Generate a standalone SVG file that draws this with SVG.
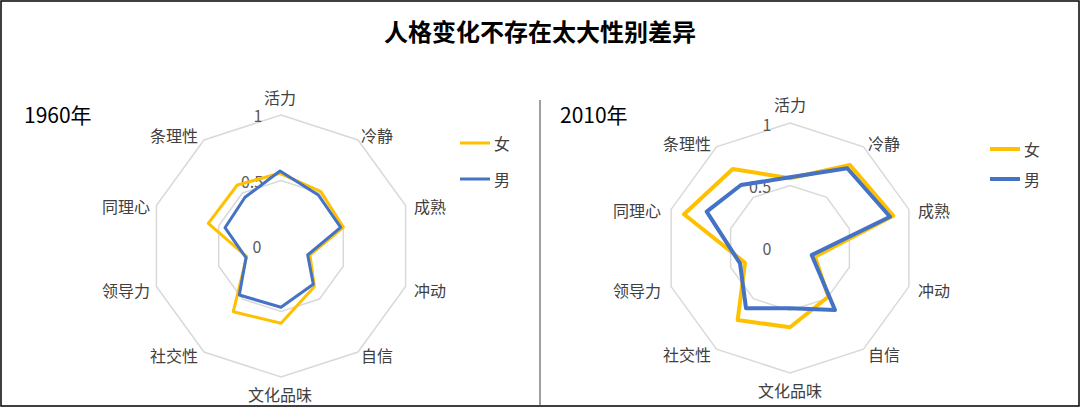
<svg xmlns="http://www.w3.org/2000/svg" width="1080" height="407" viewBox="0 0 1080 407">
<style>
text{font-family:"Noto Sans CJK SC","Liberation Sans",sans-serif;fill:#404040}
.lab{font-size:16px;text-anchor:middle;dominant-baseline:central}
.tick{font-size:16px;fill:#595959;text-anchor:middle;dominant-baseline:central}
.grid{fill:none;stroke:#d9d9d9;stroke-width:1.5}
.f{fill:none;stroke:#FFC000;stroke-width:3;stroke-linejoin:round}
.m{fill:none;stroke:#4472C4;stroke-width:3;stroke-linejoin:round}
.yr{font-size:21px;fill:#000}
</style>
<rect x="1" y="1" width="1078" height="405" fill="#fff" stroke="#000" stroke-width="1.5"/>
<text x="540" y="30" font-size="24" font-weight="bold" text-anchor="middle" dominant-baseline="central" style="fill:#000">人格变化不存在太大性别差异</text>
<line x1="540" y1="100" x2="540" y2="405" stroke="#404040" stroke-width="1"/>
<g id="chart1960">
<text class="yr" x="24" y="123">1960年</text>
<polygon class="grid" points="281,115 358,140 405.6,205.5 405.6,286.5 358,352 281,377 204,352 156.4,286.5 156.4,205.5 204,140"/>
<polygon class="grid" points="281,180.5 319.5,193 343.3,225.8 343.3,266.2 319.5,299 281,311.5 242.5,299 218.7,266.2 218.7,225.8 242.5,193"/>
<text class="tick" x="258" y="115">1</text><text class="tick" x="252" y="181">0.5</text><text class="tick" x="257" y="246">0</text>
<polygon class="f" points="280,173.3 321,191.7 343.3,227.3 310,255 314.3,286.7 281,323.3 233.3,311.7 246.7,256.7 208.3,223.3 237.3,185"/>
<polygon class="m" points="280,171 318.3,195 340.7,227.3 307.7,255 313.3,284.3 281,307.3 239.3,295 246,257.7 225,227.7 245,197.3"/>
<text class="lab" x="280" y="97">活力</text><text class="lab" x="377" y="135">冷静</text><text class="lab" x="430" y="206">成熟</text><text class="lab" x="430" y="290">冲动</text><text class="lab" x="377" y="355">自信</text><text class="lab" x="280" y="394">文化品味</text><text class="lab" x="174" y="355">社交性</text><text class="lab" x="126" y="290">领导力</text><text class="lab" x="126" y="206">同理心</text><text class="lab" x="174" y="135">条理性</text>
<line x1="460" y1="143" x2="490" y2="143" stroke="#FFC000" stroke-width="3"/><text class="lab" x="502" y="143">女</text>
<line x1="460" y1="179" x2="490" y2="179" stroke="#4472C4" stroke-width="3"/><text class="lab" x="502" y="179">男</text>
</g>
<g id="chart2010">
<text class="yr" x="560" y="123">2010年</text>
<polygon class="grid" points="790,123 863.5,146.9 908.9,209.4 908.9,286.6 863.5,349.1 790,373 716.5,349.1 671.1,286.6 671.1,209.4 716.5,146.9"/>
<polygon class="grid" points="790,185.5 826.7,197.4 849.4,228.7 849.4,267.3 826.7,298.6 790,310.5 753.3,298.6 730.6,267.3 730.6,228.7 753.3,197.4"/>
<text class="tick" x="767" y="124">1</text><text class="tick" x="760" y="186">0.5</text><text class="tick" x="767" y="248">0</text>
<polygon class="f" style="stroke-width:4" points="790,178.3 850,165 893.3,215.7 815,256.7 828.3,296.7 790,327.3 737.7,320 745,262.7 684,214.3 732.7,169"/>
<polygon class="m" style="stroke-width:4" points="790,177.3 847.3,168.3 890,216.7 811.7,255 835,310 790,308.3 746,308.3 740,263.3 706.7,211.7 741,185"/>
<text class="lab" x="790" y="104">活力</text><text class="lab" x="884" y="143">冷静</text><text class="lab" x="934" y="210">成熟</text><text class="lab" x="934" y="290">冲动</text><text class="lab" x="884" y="354">自信</text><text class="lab" x="790" y="390">文化品味</text><text class="lab" x="687" y="354">社交性</text><text class="lab" x="637" y="290">领导力</text><text class="lab" x="637" y="210">同理心</text><text class="lab" x="687" y="143">条理性</text>
<line x1="990" y1="149" x2="1020" y2="149" stroke="#FFC000" stroke-width="4"/><text class="lab" x="1032" y="149">女</text>
<line x1="990" y1="179" x2="1020" y2="179" stroke="#4472C4" stroke-width="4"/><text class="lab" x="1032" y="179">男</text>
</g>
</svg>
